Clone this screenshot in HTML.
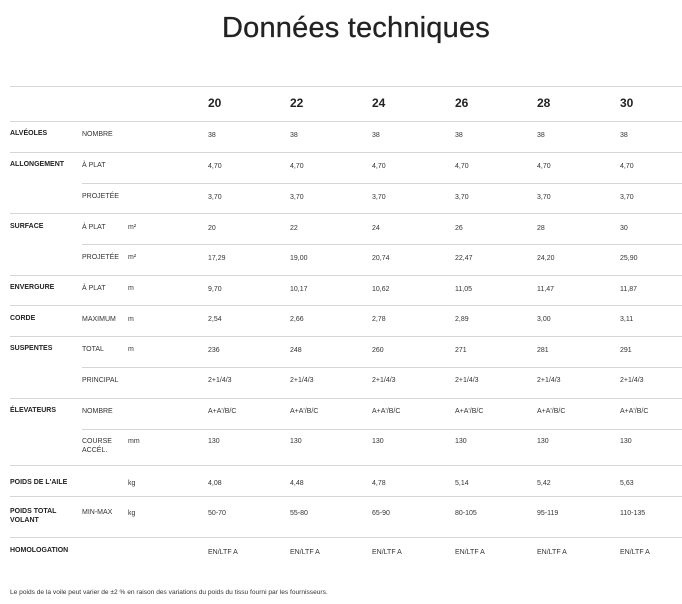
<!DOCTYPE html>
<html><head><meta charset="utf-8"><style>
body{margin:0;width:682px;height:604px;background:#fff;position:relative;overflow:hidden;font-family:"Liberation Sans",sans-serif;color:#222}
.t{position:absolute;font-size:7px;line-height:9px;white-space:nowrap;color:#333}
.b{font-weight:bold;color:#222}
.h{position:absolute;font-size:12px;font-weight:bold;top:96px;color:#222}
.l{position:absolute;height:1px;background:#d6d6d6;right:0}
h1{position:absolute;top:11px;left:15px;width:682px;text-align:center;margin:0;font-size:29px;line-height:34px;font-weight:normal;color:#222;letter-spacing:0.2px;-webkit-text-stroke:0.3px #222}
</style></head><body>
<h1>Données techniques</h1>
<div class="l" style="top:86px;left:10px"></div>
<div class="h" style="left:208px">20</div><div class="h" style="left:290px">22</div><div class="h" style="left:372px">24</div><div class="h" style="left:455px">26</div><div class="h" style="left:537px">28</div><div class="h" style="left:620px">30</div>
<div class="l" style="top:121px;left:10px"></div>
<div class="l" style="top:152px;left:10px"></div>
<div class="l" style="top:183px;left:82px"></div>
<div class="l" style="top:213px;left:10px"></div>
<div class="l" style="top:244px;left:82px"></div>
<div class="l" style="top:275px;left:10px"></div>
<div class="l" style="top:305px;left:10px"></div>
<div class="l" style="top:336px;left:10px"></div>
<div class="l" style="top:367px;left:82px"></div>
<div class="l" style="top:398px;left:10px"></div>
<div class="l" style="top:429px;left:82px"></div>
<div class="l" style="top:465px;left:10px"></div>
<div class="l" style="top:496px;left:10px"></div>
<div class="l" style="top:537px;left:10px"></div>

<div class="t b" style="left:10px;top:129px">ALVÉOLES</div><div class="t" style="left:82px;top:130px">NOMBRE</div>
<div class="t" style="left:208px;top:131px">38</div><div class="t" style="left:290px;top:131px">38</div><div class="t" style="left:372px;top:131px">38</div><div class="t" style="left:455px;top:131px">38</div><div class="t" style="left:537px;top:131px">38</div><div class="t" style="left:620px;top:131px">38</div>

<div class="t b" style="left:10px;top:160px">ALLONGEMENT</div><div class="t" style="left:82px;top:161px">À PLAT</div>
<div class="t" style="left:208px;top:162px">4,70</div><div class="t" style="left:290px;top:162px">4,70</div><div class="t" style="left:372px;top:162px">4,70</div><div class="t" style="left:455px;top:162px">4,70</div><div class="t" style="left:537px;top:162px">4,70</div><div class="t" style="left:620px;top:162px">4,70</div>

<div class="t" style="left:82px;top:192px">PROJETÉE</div>
<div class="t" style="left:208px;top:193px">3,70</div><div class="t" style="left:290px;top:193px">3,70</div><div class="t" style="left:372px;top:193px">3,70</div><div class="t" style="left:455px;top:193px">3,70</div><div class="t" style="left:537px;top:193px">3,70</div><div class="t" style="left:620px;top:193px">3,70</div>

<div class="t b" style="left:10px;top:222px">SURFACE</div><div class="t" style="left:82px;top:223px">À PLAT</div><div class="t" style="left:128px;top:223px">m²</div>
<div class="t" style="left:208px;top:224px">20</div><div class="t" style="left:290px;top:224px">22</div><div class="t" style="left:372px;top:224px">24</div><div class="t" style="left:455px;top:224px">26</div><div class="t" style="left:537px;top:224px">28</div><div class="t" style="left:620px;top:224px">30</div>

<div class="t" style="left:82px;top:253px">PROJETÉE</div><div class="t" style="left:128px;top:253px">m²</div>
<div class="t" style="left:208px;top:254px">17,29</div><div class="t" style="left:290px;top:254px">19,00</div><div class="t" style="left:372px;top:254px">20,74</div><div class="t" style="left:455px;top:254px">22,47</div><div class="t" style="left:537px;top:254px">24,20</div><div class="t" style="left:620px;top:254px">25,90</div>

<div class="t b" style="left:10px;top:283px">ENVERGURE</div><div class="t" style="left:82px;top:284px">À PLAT</div><div class="t" style="left:128px;top:284px">m</div>
<div class="t" style="left:208px;top:285px">9,70</div><div class="t" style="left:290px;top:285px">10,17</div><div class="t" style="left:372px;top:285px">10,62</div><div class="t" style="left:455px;top:285px">11,05</div><div class="t" style="left:537px;top:285px">11,47</div><div class="t" style="left:620px;top:285px">11,87</div>

<div class="t b" style="left:10px;top:314px">CORDE</div><div class="t" style="left:82px;top:315px">MAXIMUM</div><div class="t" style="left:128px;top:315px">m</div>
<div class="t" style="left:208px;top:315px">2,54</div><div class="t" style="left:290px;top:315px">2,66</div><div class="t" style="left:372px;top:315px">2,78</div><div class="t" style="left:455px;top:315px">2,89</div><div class="t" style="left:537px;top:315px">3,00</div><div class="t" style="left:620px;top:315px">3,11</div>

<div class="t b" style="left:10px;top:344px">SUSPENTES</div><div class="t" style="left:82px;top:345px">TOTAL</div><div class="t" style="left:128px;top:345px">m</div>
<div class="t" style="left:208px;top:346px">236</div><div class="t" style="left:290px;top:346px">248</div><div class="t" style="left:372px;top:346px">260</div><div class="t" style="left:455px;top:346px">271</div><div class="t" style="left:537px;top:346px">281</div><div class="t" style="left:620px;top:346px">291</div>

<div class="t" style="left:82px;top:376px">PRINCIPAL</div>
<div class="t" style="left:208px;top:376px">2+1/4/3</div><div class="t" style="left:290px;top:376px">2+1/4/3</div><div class="t" style="left:372px;top:376px">2+1/4/3</div><div class="t" style="left:455px;top:376px">2+1/4/3</div><div class="t" style="left:537px;top:376px">2+1/4/3</div><div class="t" style="left:620px;top:376px">2+1/4/3</div>

<div class="t b" style="left:10px;top:406px">ÉLEVATEURS</div><div class="t" style="left:82px;top:407px">NOMBRE</div>
<div class="t" style="left:208px;top:407px">A+A'/B/C</div><div class="t" style="left:290px;top:407px">A+A'/B/C</div><div class="t" style="left:372px;top:407px">A+A'/B/C</div><div class="t" style="left:455px;top:407px">A+A'/B/C</div><div class="t" style="left:537px;top:407px">A+A'/B/C</div><div class="t" style="left:620px;top:407px">A+A'/B/C</div>

<div class="t" style="left:82px;top:437px">COURSE<br>ACCÉL.</div><div class="t" style="left:128px;top:437px">mm</div>
<div class="t" style="left:208px;top:437px">130</div><div class="t" style="left:290px;top:437px">130</div><div class="t" style="left:372px;top:437px">130</div><div class="t" style="left:455px;top:437px">130</div><div class="t" style="left:537px;top:437px">130</div><div class="t" style="left:620px;top:437px">130</div>

<div class="t b" style="left:10px;top:478px">POIDS DE L'AILE</div><div class="t" style="left:128px;top:479px">kg</div>
<div class="t" style="left:208px;top:479px">4,08</div><div class="t" style="left:290px;top:479px">4,48</div><div class="t" style="left:372px;top:479px">4,78</div><div class="t" style="left:455px;top:479px">5,14</div><div class="t" style="left:537px;top:479px">5,42</div><div class="t" style="left:620px;top:479px">5,63</div>

<div class="t b" style="left:10px;top:507px">POIDS TOTAL<br>VOLANT</div><div class="t" style="left:82px;top:508px">MIN-MAX</div><div class="t" style="left:128px;top:509px">kg</div>
<div class="t" style="left:208px;top:509px">50-70</div><div class="t" style="left:290px;top:509px">55-80</div><div class="t" style="left:372px;top:509px">65-90</div><div class="t" style="left:455px;top:509px">80-105</div><div class="t" style="left:537px;top:509px">95-119</div><div class="t" style="left:620px;top:509px">110-135</div>

<div class="t b" style="left:10px;top:546px">HOMOLOGATION</div>
<div class="t" style="left:208px;top:548px">EN/LTF A</div><div class="t" style="left:290px;top:548px">EN/LTF A</div><div class="t" style="left:372px;top:548px">EN/LTF A</div><div class="t" style="left:455px;top:548px">EN/LTF A</div><div class="t" style="left:537px;top:548px">EN/LTF A</div><div class="t" style="left:620px;top:548px">EN/LTF A</div>

<div class="t" style="left:10px;top:588px;font-size:6.6px">Le poids de la voile peut varier de ±2 % en raison des variations du poids du tissu fourni par les fournisseurs.</div>
</body></html>
